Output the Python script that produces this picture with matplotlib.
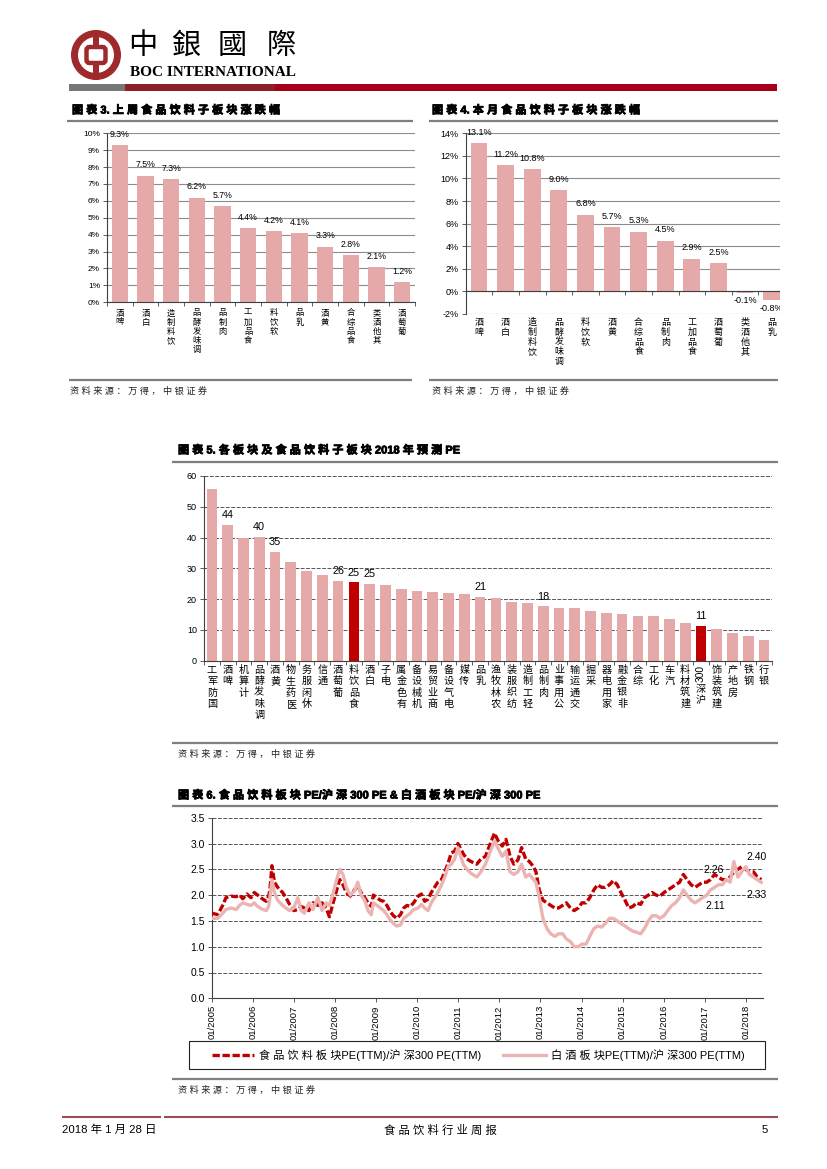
import re
import numpy as np
import matplotlib
matplotlib.use('Agg')
import matplotlib.pyplot as plt
import matplotlib.patheffects as pe
from matplotlib.patches import Rectangle, Annulus, FancyBboxPatch
from matplotlib.lines import Line2D
from matplotlib.ticker import FuncFormatter

W, H = 827, 1169
FAM = ['Liberation Sans', 'Noto Sans CJK SC']
plt.rcParams['font.family'] = FAM
plt.rcParams['axes.unicode_minus'] = False
plt.rcParams['axes.linewidth'] = 0.8

# ---------------- data ----------------
week_cats = ['啤酒', '白酒', '饮料制造', '调味发酵品', '肉制品', '食品加工', '软饮料',
             '乳品', '黄酒', '食品综合', '其他酒类', '葡萄酒']
week_chg = [9.3, 7.5, 7.3, 6.2, 5.7, 4.4, 4.2, 4.1, 3.3, 2.8, 2.1, 1.2]

month_cats = ['啤酒', '白酒', '饮料制造', '调味发酵品', '软饮料', '黄酒', '食品综合',
              '肉制品', '食品加工', '葡萄酒', '其他酒类', '乳品']
month_chg = [13.1, 11.2, 10.8, 9.0, 6.8, 5.7, 5.3, 4.5, 2.9, 2.5, -0.1, -0.8]

pe_cats = ['国防军工', '啤酒', '计算机', '调味发酵品', '黄酒', '医药生物', '休闲服务', '通信',
           '葡萄酒', '食品饮料', '白酒', '电子', '有色金属', '机械设备', '商业贸易', '电气设备',
           '传媒', '乳品', '农林牧渔', '纺织服装', '轻工制造', '肉制品', '公用事业', '交通运输',
           '采掘', '家用电器', '非银金融', '综合', '化工', '汽车', '建筑材料', '沪深300',
           '建筑装饰', '房地产', '钢铁', '银行']
pe_vals = [55.7, 44.2, 39.9, 40.1, 35.3, 32.2, 29.1, 27.9, 25.8, 25.4, 24.9, 24.5,
           23.4, 22.6, 22.4, 22.1, 21.7, 20.7, 20.3, 18.9, 18.6, 17.6, 17.1, 17.0,
           16.0, 15.4, 15.3, 14.6, 14.6, 13.7, 12.1, 11.3, 10.2, 9.1, 8.1, 6.8]
pe_labeled = ['啤酒', '调味发酵品', '黄酒', '葡萄酒', '食品饮料', '白酒', '乳品', '肉制品', '沪深300']
pe_highlight = ['食品饮料', '沪深300']

rel_t = [2005.00, 2005.14, 2005.26, 2005.34, 2005.46, 2005.59, 2005.67, 2005.75, 2005.85, 2005.95,
         2006.03, 2006.11, 2006.24, 2006.32, 2006.38, 2006.41, 2006.46, 2006.52, 2006.60, 2006.72,
         2006.80, 2006.89, 2006.99, 2007.09, 2007.17, 2007.25, 2007.36, 2007.46, 2007.58, 2007.68,
         2007.78, 2007.86, 2007.94, 2008.02, 2008.11, 2008.19, 2008.27, 2008.37, 2008.47, 2008.55,
         2008.63, 2008.72, 2008.80, 2008.88, 2008.93, 2009.02, 2009.10, 2009.18, 2009.26, 2009.34,
         2009.42, 2009.50, 2009.59, 2009.67, 2009.75, 2009.83, 2009.91, 2010.02, 2010.10, 2010.18,
         2010.26, 2010.34, 2010.42, 2010.50, 2010.59, 2010.67, 2010.75, 2010.83, 2010.91, 2010.99,
         2011.12, 2011.21, 2011.31, 2011.45, 2011.55, 2011.66, 2011.78, 2011.88, 2011.97, 2012.07,
         2012.16, 2012.26, 2012.35, 2012.45, 2012.54, 2012.64, 2012.73, 2012.83, 2012.89, 2012.97,
         2013.06, 2013.16, 2013.25, 2013.35, 2013.44, 2013.54, 2013.63, 2013.73, 2013.82, 2013.92,
         2014.01, 2014.11, 2014.20, 2014.30, 2014.39, 2014.49, 2014.58, 2014.68, 2014.77, 2014.87,
         2014.96, 2015.06, 2015.15, 2015.25, 2015.34, 2015.44, 2015.53, 2015.63, 2015.72, 2015.82,
         2015.91, 2016.01, 2016.10, 2016.20, 2016.29, 2016.39, 2016.48, 2016.57, 2016.67, 2016.76,
         2016.86, 2016.95, 2017.05, 2017.14, 2017.24, 2017.33, 2017.43, 2017.52, 2017.62, 2017.71,
         2017.81, 2017.90, 2018.00, 2018.09, 2018.19, 2018.28, 2018.38]
rel_food = [1.65, 1.62, 1.80, 1.95, 1.98, 1.97, 2.00, 1.93, 2.02, 1.95,
            2.05, 2.00, 1.92, 1.88, 1.98, 2.10, 2.57, 2.25, 2.15, 2.05,
            1.95, 1.82, 1.70, 1.72, 1.78, 1.75, 1.70, 1.85, 1.80, 1.85,
            1.75, 1.58, 1.82, 2.05, 2.30, 2.20, 2.05, 1.98, 2.10, 2.18,
            2.05, 1.95, 1.85, 1.78, 2.00, 1.95, 1.90, 1.88, 1.80, 1.68,
            1.60, 1.55, 1.62, 1.75, 1.80, 1.78, 1.85, 1.98, 2.02, 1.88,
            1.92, 2.05, 2.15, 2.25, 2.30, 2.45, 2.62, 2.82, 2.85, 3.00,
            2.80, 2.70, 2.65, 2.60, 2.70, 2.75, 3.00, 3.20, 3.05, 2.95,
            3.08, 2.75, 2.60, 2.68, 2.92, 2.70, 2.65, 2.55, 2.45, 2.10,
            1.90, 1.85, 1.80, 1.75, 1.75, 1.80, 1.85, 1.75, 1.70, 1.75,
            1.85, 1.85, 1.95, 2.10, 2.20, 2.15, 2.15, 2.20, 2.28, 2.20,
            2.05, 1.90, 1.75, 1.78, 1.85, 1.82, 1.95, 2.00, 2.05, 2.00,
            1.98, 2.05, 2.10, 2.15, 2.20, 2.25, 2.40, 2.30, 2.20, 2.15,
            2.20, 2.25, 2.25, 2.30, 2.40, 2.35, 2.30, 2.30, 2.35, 2.45,
            2.50, 2.55, 2.50, 2.45, 2.45, 2.35, 2.30]
rel_liquor = [1.55, 1.55, 1.65, 1.72, 1.75, 1.72, 1.80, 1.85, 1.82, 1.80,
              1.85, 1.78, 1.72, 1.70, 1.78, 1.95, 2.30, 2.05, 1.90, 1.80,
              1.75, 1.70, 1.75, 1.95, 1.70, 1.65, 1.85, 1.72, 1.95, 1.70,
              1.85, 1.80, 2.00, 2.25, 2.50, 2.40, 2.15, 2.00, 2.08, 2.25,
              2.00, 1.90, 1.70, 1.62, 1.85, 1.80, 1.75, 1.70, 1.62, 1.52,
              1.45, 1.40, 1.42, 1.55, 1.60, 1.65, 1.72, 1.75, 1.82, 1.75,
              1.70, 1.85, 1.95, 2.05, 2.20, 2.35, 2.55, 2.60, 2.70, 2.92,
              2.60, 2.50, 2.42, 2.35, 2.45, 2.60, 2.85, 3.05, 2.90, 2.75,
              2.85, 2.45, 2.40, 2.45, 2.60, 2.35, 2.40, 2.30, 2.25, 1.95,
              1.55, 1.35, 1.25, 1.20, 1.25, 1.25, 1.15, 1.10, 1.00, 1.00,
              1.05, 1.05, 1.20, 1.35, 1.40, 1.38, 1.45, 1.55, 1.55, 1.50,
              1.45, 1.40, 1.35, 1.30, 1.28, 1.25, 1.35, 1.50, 1.60, 1.60,
              1.55, 1.60, 1.70, 1.80, 1.85, 1.95, 2.10, 2.00, 1.90, 1.85,
              1.90, 1.95, 2.00, 2.10, 2.15, 2.20, 2.20, 2.30, 2.25, 2.65,
              2.35, 2.45, 2.55, 2.40, 2.35, 2.30, 2.25]
rel_notes = ['2.40', '2.26', '2.33', '2.11']
year_ticks = list(range(2005, 2019))

# ---------------- style ----------------
PINK = '#E6A9A9'
PINK_LINE = '#ECB3B3'
RED = '#C00000'
GRAY_LINE = '#7F7F7F'
GRID_SOLID = dict(color='#8C8C8C', linewidth=0.8, linestyle='-')
GRID_DASH = dict(color='#555555', linewidth=0.7, linestyle=(0, (4, 1.5)))
FAKE_BOLD = [pe.withStroke(linewidth=0.55, foreground='black')]

fig = plt.figure(figsize=(W / 100, H / 100), dpi=100)


def add_ax(l, t, r, b):
    return fig.add_axes([l / W, 1 - b / H, (r - l) / W, (b - t) / H])


def is_cjk(ch):
    return ord(ch) > 0x2E7F


def spaced(s):
    out = ''
    for i, ch in enumerate(s):
        out += ch
        if i + 1 < len(s) and is_cjk(ch) and is_cjk(s[i + 1]):
            out += ' '
    return out


def style_axes(ax, grid, ylab_size):
    for s in ['top', 'right']:
        ax.spines[s].set_visible(False)
    ax.spines['left'].set_color('#404040')
    ax.spines['bottom'].set_color('#404040')
    ax.tick_params(axis='y', direction='out', length=3, width=0.6, pad=2,
                   labelsize=ylab_size, color='#404040')
    ax.yaxis.grid(True, **grid)
    ax.set_axisbelow(True)


def vlabels(ax, cats, fs, top_px, step_px):
    """Vertical (stacked) category labels, reading bottom-to-top, hanging from the axis."""
    for i, c in enumerate(cats):
        toks = re.findall(r'[A-Za-z0-9]+|.', c)
        y = -top_px
        for t in reversed(toks):
            if t.isascii():
                ax.annotate(t, (i, 0), xycoords=('data', 'axes fraction'),
                            xytext=(0, y * 0.72), textcoords='offset points',
                            rotation=90, ha='center', va='top', fontsize=fs)
                y -= len(t) * 0.556 * fs / 0.72 + 2
            else:
                ax.annotate(t, (i, 0), xycoords=('data', 'axes fraction'),
                            xytext=(0, y * 0.72), textcoords='offset points',
                            ha='center', va='top', fontsize=fs)
                y -= step_px


def boundary_ticks(ax, n):
    ax.set_xticks([])
    ax.set_xticks(np.arange(n + 1) - 0.5, minor=True)
    ax.tick_params(axis='x', which='minor', direction='out', length=3, width=0.6,
                   color='#404040')


pct_fmt = FuncFormatter(lambda v, p: f'{v * 100:.0f}%')

# ---------------- chart 3 ----------------
ax3 = add_ax(107, 133.3, 415, 302.3)
n3 = len(week_cats)
x3 = np.arange(n3)
v3 = np.array(week_chg) / 100
ax3.bar(x3, v3, width=0.63, color=PINK, zorder=2)
ax3.set_xlim(-0.5, n3 - 0.5)
ax3.set_ylim(0, 0.10)
ax3.set_yticks(np.arange(0, 0.1001, 0.01))
ax3.yaxis.set_major_formatter(pct_fmt)
style_axes(ax3, GRID_SOLID, 6)
boundary_ticks(ax3, n3)
for xi, v in zip(x3, week_chg):
    ax3.annotate(f'{v:.1f}%', (xi, v / 100), xytext=(0, 4.5), textcoords='offset points',
                 ha='center', va='bottom', fontsize=6.3)
vlabels(ax3, week_cats, 6.0, 7, 9.2)

# ---------------- chart 4 ----------------
ax4 = add_ax(465.7, 133.3, 785, 314)
n4 = len(month_cats)
x4 = np.arange(n4)
ax4.bar(x4, np.array(month_chg) / 100, width=0.63, color=PINK, zorder=2)
ax4.set_xlim(-0.5, n4 - 0.5)
ax4.set_ylim(-0.02, 0.14)
ax4.set_yticks(np.arange(-0.02, 0.1401, 0.02))
ax4.yaxis.set_major_formatter(pct_fmt)
style_axes(ax4, GRID_SOLID, 6.5)
ax4.spines['bottom'].set_visible(False)
ax4.set_xticks([])
ax4.axhline(0, color='#404040', linewidth=0.8, zorder=3)
ax4.vlines(np.arange(n4 + 1) - 0.5, -0.0035, 0, color='#404040', linewidth=0.6, zorder=3)
for xi, v in zip(x4, month_chg):
    if v >= 0:
        ax4.annotate(f'{v:.1f}%', (xi, v / 100), xytext=(0, 4.5), textcoords='offset points',
                     ha='center', va='bottom', fontsize=6.5)
    else:
        ax4.annotate(f'{v:.1f}%', (xi, v / 100), xytext=(0, -2.5), textcoords='offset points',
                     ha='center', va='top', fontsize=6.5)
vlabels(ax4, month_cats, 6.5, 4, 9.8)

# ---------------- chart 5 ----------------
ax5 = add_ax(204, 475.9, 772, 660.7)
n5 = len(pe_cats)
x5 = np.arange(n5)
cols5 = [RED if c in pe_highlight else PINK for c in pe_cats]
ax5.bar(x5, pe_vals, width=0.68, color=cols5, zorder=2)
ax5.set_xlim(-0.5, n5 - 0.5)
ax5.set_ylim(0, 60)
ax5.set_yticks(np.arange(0, 61, 10))
style_axes(ax5, GRID_DASH, 6.5)
boundary_ticks(ax5, n5)
for xi, c, v in zip(x5, pe_cats, pe_vals):
    if c in pe_labeled:
        ax5.annotate(f'{v:.0f}', (xi, v), xytext=(0, 3.5), textcoords='offset points',
                     ha='center', va='bottom', fontsize=7.8)
vlabels(ax5, pe_cats, 7.3, 4, 11.4)

# ---------------- chart 6 ----------------
ax6 = add_ax(212, 817.7, 763, 998.3)
ax6.plot(rel_t, rel_food, color=RED, linewidth=2.4, linestyle=(0, (2.2, 0.8)), zorder=3,
         solid_capstyle='butt', dash_capstyle='butt')
ax6.plot(rel_t, rel_liquor, color=PINK_LINE, linewidth=2.4, zorder=4)
ax6.set_xlim(2005.0, 2018.42)
ax6.set_ylim(0, 3.5)
ax6.set_yticks(np.arange(0, 3.51, 0.5))
ax6.yaxis.set_major_formatter(FuncFormatter(lambda v, p: f'{v:.1f}'))
style_axes(ax6, GRID_DASH, 7.5)
ax6.set_xticks(year_ticks)
ax6.set_xticklabels([f'01/{y}' for y in year_ticks], rotation=90, fontsize=6.8)
ax6.tick_params(axis='x', direction='out', length=3, width=0.6, pad=2, color='#404040')
note_pos = [(2018.27, 2.74), (2017.22, 2.49), (2018.27, 2.00), (2017.27, 1.79)]
for txt, (nx, ny) in zip(rel_notes, note_pos):
    ax6.text(nx, ny, txt, ha='center', va='center', fontsize=7.5, zorder=6)

h_food = Line2D([], [], color=RED, linewidth=2.4, linestyle=(0, (2.2, 0.8)))
h_liq = Line2D([], [], color=PINK_LINE, linewidth=2.4)
ax6.legend([h_food, h_liq],
           [spaced('食品饮料板块PE(TTM)/沪深300 PE(TTM)'), spaced('白酒板块PE(TTM)/沪深300 PE(TTM)')],
           loc='center', bbox_to_anchor=(478 / W, 1 - 1055 / H), bbox_transform=fig.transFigure,
           ncol=2, frameon=False, fontsize=8.0, handlelength=3.8, handletextpad=0.45,
           columnspacing=2.0, borderpad=0.2)

# ---------------- page overlay ----------------
pg = fig.add_axes([0, 0, 1, 1])
pg.set_xlim(0, W)
pg.set_ylim(H, 0)
pg.axis('off')

# mask right edge of chart 4 (cropped in the page)
pg.add_patch(Rectangle((780, 125), 47, 200, facecolor='white', edgecolor='none', zorder=10))

# header logo
LOGO = '#9E2A2B'
pg.add_patch(Annulus((96, 55), 25, 7, facecolor=LOGO, edgecolor='none'))
pg.add_patch(Rectangle((93, 31), 6, 17, facecolor=LOGO, edgecolor='none'))
pg.add_patch(Rectangle((93, 62), 6, 18, facecolor=LOGO, edgecolor='none'))
pg.add_patch(FancyBboxPatch((86.5, 47), 19, 16, boxstyle='round,pad=0,rounding_size=3',
                            fill=False, edgecolor=LOGO, linewidth=3.2))
for ch, cx in zip('中銀國際', [143, 186, 232, 281]):
    pg.text(cx, 46, ch, ha='center', va='center', fontsize=21,
            family=['Noto Sans CJK TC'], color='black')
pg.text(130, 73, 'BOC INTERNATIONAL', ha='left', va='center', fontsize=11,
        family=['Liberation Serif'], weight='bold', color='black')
pg.add_patch(Rectangle((69, 84), 56, 7, facecolor='#777777', edgecolor='none'))
pg.add_patch(Rectangle((125, 84), 150, 7, facecolor='#8E1F24', edgecolor='none'))
pg.add_patch(Rectangle((275, 84), 502, 7, facecolor='#A8001C', edgecolor='none'))


def title(x, y, s, x0, x1, yl):
    pg.text(x, y, spaced(s), ha='left', va='center', fontsize=8.0, weight='bold',
            path_effects=FAKE_BOLD)
    pg.plot([x0, x1], [yl, yl], color=GRAY_LINE, linewidth=1.6, solid_capstyle='butt')


def source(x, y, x0, x1, yl):
    pg.plot([x0, x1], [yl, yl], color=GRAY_LINE, linewidth=1.6, solid_capstyle='butt')
    pg.text(x, y, spaced('资料来源：万得，中银证券'), ha='left', va='center', fontsize=6.6,
            color='#222222', style='italic')


title(72, 110, '图表 3. 上周食品饮料子板块涨跌幅', 67, 413, 121)
title(432, 110, '图表 4. 本月食品饮料子板块涨跌幅', 429, 778, 121)
title(178, 450, '图表 5. 各板块及食品饮料子板块 2018 年预测 PE', 172, 778, 462)
title(178, 795, '图表 6. 食品饮料板块 PE/沪深 300 PE & 白酒板块 PE/沪深 300 PE', 172, 778, 806)

source(70, 391, 69, 412, 380)
source(432, 391, 429, 778, 380)
source(178, 754, 172, 778, 743)
source(178, 1090, 172, 778, 1079)

# legend box for chart 6
pg.add_patch(Rectangle((189, 1041), 576, 28, fill=False, edgecolor='#222222', linewidth=0.8))

# page footer
FOOT = '#9C4A58'
pg.plot([62, 161], [1117, 1117], color=FOOT, linewidth=1.5, solid_capstyle='butt')
pg.plot([164, 778], [1117, 1117], color=FOOT, linewidth=1.5, solid_capstyle='butt')
pg.text(62, 1130, '2018 年 1 月 28 日', ha='left', va='center', fontsize=8.2)
pg.text(440, 1130, spaced('食品饮料行业周报'), ha='center', va='center', fontsize=8.2)
pg.text(768, 1130, '5', ha='right', va='center', fontsize=8.2)

fig.savefig('out.png', dpi=100)
